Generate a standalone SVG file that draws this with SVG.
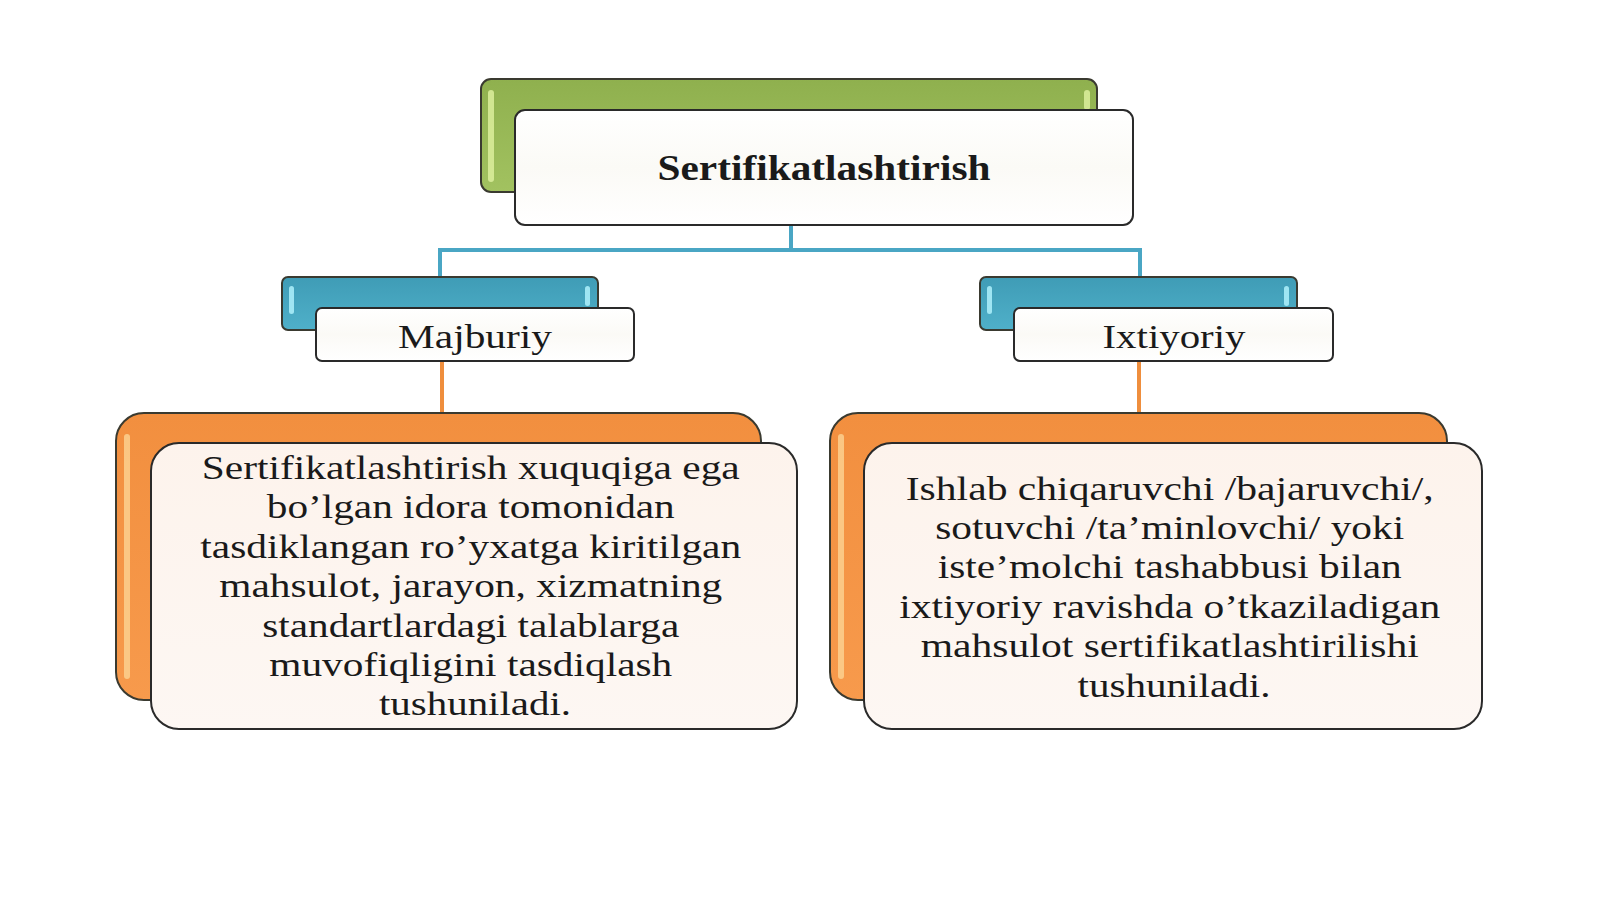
<svg xmlns="http://www.w3.org/2000/svg" width="1600" height="899" viewBox="0 0 1600 899">
<style>
.back{stroke:#3a3a30;stroke-width:2}
.front{fill:url(#wh);stroke:#2a2a2a;stroke-width:2}
.card{fill:url(#cr);stroke:#2a2a2a;stroke-width:2}
.t{font-family:"Liberation Serif","Times New Roman",serif;fill:#1a1a1a;text-anchor:middle}
.lbl{font-size:34px}
.body{font-size:34px}
.title{font-size:35px;font-weight:bold}
.blue{fill:none;stroke:#4aa6c4;stroke-width:4}
.orange{fill:none;stroke:#ef8e3d;stroke-width:4}
.hl-g{fill:#dcef9c;opacity:0.85}
.hl-b{fill:#a8ecf8;opacity:0.9}
.hl-o{fill:#fcd08f;opacity:0.85}
</style>
<defs>
<linearGradient id="gr" x1="0" y1="0" x2="0" y2="1"><stop offset="0" stop-color="#8fb04e"/><stop offset="1" stop-color="#a2c260"/></linearGradient>
<linearGradient id="bl" x1="0" y1="0" x2="0" y2="1"><stop offset="0" stop-color="#3f9cb6"/><stop offset="1" stop-color="#4fb0c9"/></linearGradient>
<linearGradient id="or" x1="0" y1="0" x2="0" y2="1"><stop offset="0" stop-color="#f28f3f"/><stop offset="1" stop-color="#f79a4c"/></linearGradient>
<linearGradient id="wh" x1="0" y1="0" x2="0" y2="1"><stop offset="0" stop-color="#ffffff"/><stop offset="0.5" stop-color="#fbfaf6"/><stop offset="1" stop-color="#ffffff"/></linearGradient>
<linearGradient id="cr" x1="0" y1="0" x2="0" y2="1"><stop offset="0" stop-color="#fdf3ec"/><stop offset="1" stop-color="#fdf7f3"/></linearGradient>
</defs>
<rect width="1600" height="899" fill="#ffffff"/>
<g id="connectors">
<path class="blue" d="M791 225 V250 M440 277 V250 H1140 V277"/>
<path class="orange" d="M442 361 V414 M1139 361 V414"/>
</g>
<g id="node-root">
<rect class="back" x="481" y="79" width="616" height="113" rx="10" fill="url(#gr)"/>
<rect class="hl-g" x="488" y="90" width="6" height="92" rx="3"/>
<rect class="hl-g" x="1084" y="90" width="6" height="20" rx="3"/>
<rect class="front" x="515" y="110" width="618" height="115" rx="10"/>
<text class="t title" x="824" y="180" textLength="333" lengthAdjust="spacingAndGlyphs">Sertifikatlashtirish</text>
</g>
<g id="node-majburiy">
<rect class="back" x="282" y="277" width="316" height="53" rx="6" fill="url(#bl)"/>
<rect class="hl-b" x="289" y="286" width="5" height="28" rx="2.5"/>
<rect class="hl-b" x="585" y="286" width="5" height="20" rx="2.5"/>
<rect class="front" x="316" y="308" width="318" height="53" rx="6"/>
<text class="t lbl" x="475" y="348" textLength="154" lengthAdjust="spacingAndGlyphs">Majburiy</text>
</g>
<g id="node-ixtiyoriy">
<rect class="back" x="980" y="277" width="317" height="53" rx="6" fill="url(#bl)"/>
<rect class="hl-b" x="987" y="286" width="5" height="28" rx="2.5"/>
<rect class="hl-b" x="1284" y="286" width="5" height="20" rx="2.5"/>
<rect class="front" x="1014" y="308" width="319" height="53" rx="6"/>
<text class="t lbl" x="1174" y="348" textLength="143" lengthAdjust="spacingAndGlyphs">Ixtiyoriy</text>
</g>
<g id="node-majburiy-desc">
<rect class="back" x="116" y="413" width="645" height="287" rx="28" fill="url(#or)"/>
<rect class="hl-o" x="124" y="434" width="6" height="245" rx="3"/>
<rect class="card" x="151" y="443" width="646" height="286" rx="28"/>
<text class="t body">
<tspan x="475" y="479" textLength="538" lengthAdjust="spacingAndGlyphs">Sertifikatlashtirish xuquqiga ega</tspan>
<tspan x="475" y="518" textLength="408" lengthAdjust="spacingAndGlyphs">bo’lgan idora tomonidan</tspan>
<tspan x="475" y="558" textLength="541" lengthAdjust="spacingAndGlyphs">tasdiklangan ro’yxatga kiritilgan</tspan>
<tspan x="475" y="597" textLength="503" lengthAdjust="spacingAndGlyphs">mahsulot, jarayon, xizmatning</tspan>
<tspan x="475" y="637" textLength="417" lengthAdjust="spacingAndGlyphs">standartlardagi talablarga</tspan>
<tspan x="475" y="676" textLength="403" lengthAdjust="spacingAndGlyphs">muvofiqligini tasdiqlash</tspan>
<tspan x="475" y="715" textLength="192" lengthAdjust="spacingAndGlyphs">tushuniladi.</tspan>
</text>
</g>
<g id="node-ixtiyoriy-desc">
<rect class="back" x="830" y="413" width="617" height="287" rx="28" fill="url(#or)"/>
<rect class="hl-o" x="838" y="434" width="6" height="245" rx="3"/>
<rect class="card" x="864" y="443" width="618" height="286" rx="28"/>
<text class="t body">
<tspan x="1174" y="500" textLength="528" lengthAdjust="spacingAndGlyphs">Ishlab chiqaruvchi /bajaruvchi/,</tspan>
<tspan x="1174" y="539" textLength="469" lengthAdjust="spacingAndGlyphs">sotuvchi /ta’minlovchi/ yoki</tspan>
<tspan x="1174" y="578" textLength="464" lengthAdjust="spacingAndGlyphs">iste’molchi tashabbusi bilan</tspan>
<tspan x="1174" y="618" textLength="541" lengthAdjust="spacingAndGlyphs">ixtiyoriy ravishda o’tkaziladigan</tspan>
<tspan x="1174" y="657" textLength="498" lengthAdjust="spacingAndGlyphs">mahsulot sertifikatlashtirilishi</tspan>
<tspan x="1174" y="697" textLength="193" lengthAdjust="spacingAndGlyphs">tushuniladi.</tspan>
</text>
</g>
</svg>
